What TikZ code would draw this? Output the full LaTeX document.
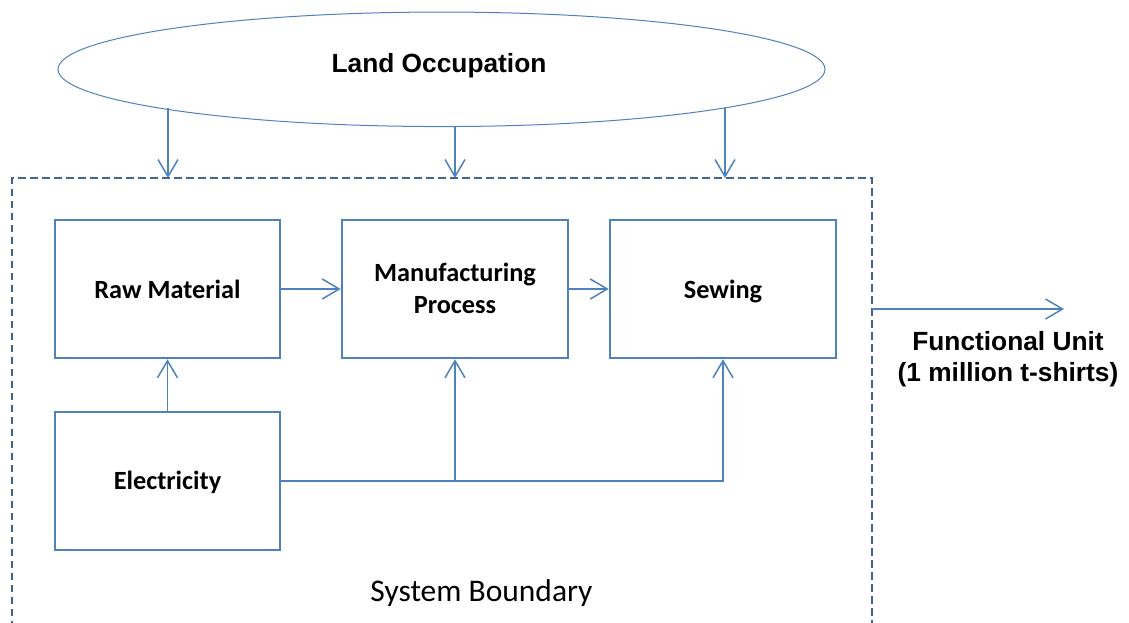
\documentclass[tikz,border=0pt]{standalone}
\usepackage{fontspec}
\setmainfont{Liberation Sans}
\newfontfamily\calibri{Carlito}
\usetikzlibrary{arrows.meta,shapes.geometric}
\definecolor{ob}{HTML}{4F81BD}
\definecolor{db}{HTML}{41648F}
\begin{document}
\begin{tikzpicture}[x=1pt,y=-1pt,
  box/.style={draw=ob, line width=2.6pt, minimum width=225pt, minimum height=138pt, inner sep=0pt},
  boxtxt/.style={font=\calibri\bfseries\fontsize{26.3}{31.6}\selectfont, align=center, inner sep=0pt},
  arialtxt/.style={font=\bfseries\fontsize{26.3}{31.6}\selectfont, align=center, inner sep=0pt},
  arr/.style={draw=ob, line width=1.5pt, -{Straight Barb[length=17pt,width=20pt,line width=1.5pt]}},
  conn/.style={draw=ob, line width=1.5pt},
  bound/.style={draw=db, line width=1.8pt, dash pattern=on 7.5pt off 4.5pt}]
\useasboundingbox (0,0) rectangle (1129,623);
\clip (0,0) rectangle (1129,623);

% ellipse
\node[ellipse, draw=ob, line width=1pt, minimum width=767pt, minimum height=114.5pt, inner sep=0pt] (land) at (441.5,69.3) {};
\node[arialtxt, anchor=base] (landtxt) at (439,73) {Land Occupation};

% system boundary
\coordinate (bl) at (12,640);
\coordinate (tl) at (12,178);
\coordinate (tr) at (872,178);
\coordinate (br) at (872,640);
\draw[bound] (bl) -- (tl) -- (tr) -- (br);

% boxes
\node[box] (raw) at (167.5,289) {};
\node[box, minimum width=226pt] (manu) at (455,289) {};
\node[box, minimum width=226pt] (sew) at (723,289) {};
\node[box] (elec) at (167.5,481) {};

\node[boxtxt, anchor=base] (rawtxt) at (167.5,298.3) {Raw Material};
\node[boxtxt, anchor=base] (manutxt1) at (455,281.7) {Manufacturing};
\node[boxtxt, anchor=base] (manutxt2) at (455,313.3) {Process};
\node[boxtxt, anchor=base] (sewtxt) at (723,298.3) {Sewing};
\node[boxtxt, anchor=base] (electxt) at (167.5,489.3) {Electricity};

\node[font=\calibri\fontsize{31.5}{36}\selectfont, inner sep=0pt, anchor=base] (sysb) at (481.5,601.7) {System Boundary};

% ellipse arrows
\coordinate (e1) at (168,108);
\coordinate (e2) at (455,127);
\coordinate (e3) at (725,108);
\draw[arr] (e1) -- (e1 |- tl);
\draw[arr] (e2) -- (e2 |- tl);
\draw[arr] (e3) -- (e3 |- tl);

% process flow
\draw[arr] (raw.east) -- (manu.west);
\draw[arr] (manu.east) -- (sew.west);
\draw[arr] (elec.north) -- (raw.south);
\coordinate (j) at (elec.east -| manu.south);
\draw[conn] (elec.east) -- (j);
\draw[arr] (j) -- (manu.south);
\draw[arr] (j) -| (sew.south);

% functional unit
\coordinate (f1) at (872,309);
\coordinate (f2) at (1064,309);
\draw[arr] (f1) -- (f2);
\node[arialtxt, anchor=base] (fu1) at (1008,350) {Functional Unit};
\node[arialtxt, anchor=base] (fu2) at (1008,381) {(1 million t-shirts)};
\end{tikzpicture}
\end{document}
